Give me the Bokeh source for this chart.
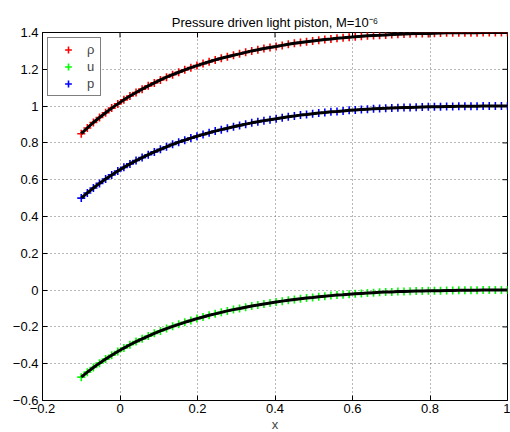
import math
from bokeh.plotting import figure
from bokeh.models import Range1d, FixedTicker, Legend, LegendItem
from bokeh.embed import file_html
from bokeh.resources import INLINE

title_text = "Pressure driven light piston, M=10\u207b\u2076"
x_label = "x"
series_names = ["\u03c1", "u", "p"]
series_colors = ["#ff0000", "#00ff00", "#0000ff"]

x_vals = [-0.1, -0.0843, -0.0686, -0.0529, -0.0371, -0.0214, -0.0057, 0.0100, 0.0257, 0.0414,
          0.0571, 0.0729, 0.0886, 0.1043, 0.1200, 0.1357, 0.1514, 0.1671, 0.1829, 0.1986,
          0.2143, 0.2300, 0.2457, 0.2614, 0.2771, 0.2929, 0.3086, 0.3243, 0.3400, 0.3557,
          0.3714, 0.3871, 0.4029, 0.4186, 0.4343, 0.4500, 0.4657, 0.4814, 0.4971, 0.5129,
          0.5286, 0.5443, 0.5600, 0.5757, 0.5914, 0.6071, 0.6229, 0.6386, 0.6543, 0.6700,
          0.6857, 0.7014, 0.7171, 0.7329, 0.7486, 0.7643, 0.7800, 0.7957, 0.8114, 0.8271,
          0.8429, 0.8586, 0.8743, 0.8900, 0.9057, 0.9214, 0.9371, 0.9529, 0.9686, 0.9843, 1.0]

rho_vals = [0.850, 0.881, 0.911, 0.938, 0.964, 0.989, 1.012, 1.034, 1.055, 1.074,
            1.092, 1.110, 1.126, 1.142, 1.157, 1.171, 1.184, 1.197, 1.209, 1.220,
            1.231, 1.241, 1.251, 1.260, 1.268, 1.276, 1.284, 1.292, 1.300, 1.306,
            1.313, 1.319, 1.324, 1.330, 1.336, 1.341, 1.346, 1.350, 1.354, 1.358,
            1.362, 1.365, 1.369, 1.371, 1.374, 1.377, 1.379, 1.382, 1.384, 1.385,
            1.387, 1.389, 1.390, 1.392, 1.393, 1.394, 1.395, 1.395, 1.396, 1.397,
            1.398, 1.398, 1.398, 1.399, 1.399, 1.399, 1.400, 1.400, 1.400, 1.400, 1.400]

u_vals = [-0.473, -0.446, -0.421, -0.397, -0.375, -0.354, -0.334, -0.315, -0.297, -0.280,
          -0.265, -0.250, -0.235, -0.222, -0.209, -0.197, -0.186, -0.175, -0.165, -0.155,
          -0.146, -0.137, -0.129, -0.121, -0.113, -0.106, -0.100, -0.093, -0.086, -0.081,
          -0.075, -0.070, -0.065, -0.060, -0.055, -0.051, -0.047, -0.043, -0.040, -0.036,
          -0.033, -0.030, -0.027, -0.025, -0.022, -0.020, -0.018, -0.016, -0.014, -0.012,
          -0.011, -0.010, -0.008, -0.007, -0.006, -0.005, -0.005, -0.004, -0.003, -0.003,
          -0.002, -0.002, -0.001, -0.001, -0.001, -0.001, 0.000, 0.000, 0.000, 0.000, 0.000]

p_vals = [0.500, 0.528, 0.555, 0.580, 0.604, 0.626, 0.647, 0.667, 0.686, 0.704,
          0.720, 0.736, 0.751, 0.765, 0.779, 0.792, 0.804, 0.815, 0.826, 0.836,
          0.846, 0.855, 0.864, 0.872, 0.880, 0.888, 0.895, 0.902, 0.909, 0.915,
          0.921, 0.926, 0.931, 0.937, 0.942, 0.946, 0.951, 0.954, 0.958, 0.962,
          0.965, 0.969, 0.971, 0.974, 0.977, 0.979, 0.981, 0.983, 0.985, 0.987,
          0.988, 0.990, 0.991, 0.992, 0.993, 0.994, 0.995, 0.996, 0.997, 0.997,
          0.998, 0.998, 0.999, 0.999, 0.999, 0.999, 1.000, 1.000, 1.000, 1.000, 1.000]

x_ticks = [-0.2, 0, 0.2, 0.4, 0.6, 0.8, 1]
x_tick_labels = ["\u22120.2", "0", "0.2", "0.4", "0.6", "0.8", "1"]
y_ticks = [-0.6, -0.4, -0.2, 0, 0.2, 0.4, 0.6, 0.8, 1, 1.2, 1.4]
y_tick_labels = ["\u22120.6", "\u22120.4", "\u22120.2", "0", "0.2", "0.4", "0.6", "0.8", "1", "1.2", "1.4"]
x_lo, x_hi = -0.2, 1
y_lo, y_hi = -0.6, 1.4

FONT = "Liberation Sans"

p = figure(frame_width=465, frame_height=368, output_backend="svg", toolbar_location=None,
           x_range=Range1d(x_lo, x_hi), y_range=Range1d(y_lo, y_hi),
           min_border_left=42, min_border_right=3, min_border_top=32, min_border_bottom=20,
           background_fill_color="white", border_fill_color="white")

p.title.text = title_text
p.title.text_font = FONT
p.title.text_font_size = "13px"
p.title.text_font_style = "normal"
p.title.text_color = "black"
p.title.align = "center"
p.title.standoff = 6

p.outline_line_color = "black"
p.outline_line_width = 1

def style_axis(ax, ticks, labels):
    ax.ticker = FixedTicker(ticks=ticks)
    ax.axis_line_color = "black"
    ax.major_tick_line_color = "black"
    ax.major_tick_in = 5
    ax.major_tick_out = 0
    ax.minor_tick_line_color = None
    ax.major_label_text_font = FONT
    ax.major_label_text_font_size = "13px"
    ax.major_label_text_color = "black"
    ax.major_label_overrides = {t: l for t, l in zip(ticks, labels)}

style_axis(p.xaxis[0], x_ticks, x_tick_labels)
style_axis(p.yaxis[0], y_ticks, y_tick_labels)
p.xaxis[0].major_label_standoff = 3
p.yaxis[0].major_label_standoff = 4
p.xaxis[0].axis_label = x_label
p.xaxis[0].axis_label_text_font = FONT
p.xaxis[0].axis_label_text_font_size = "13px"
p.xaxis[0].axis_label_text_font_style = "normal"
p.xaxis[0].axis_label_standoff = 1

# inward ticks on the top and right edges of the box
p.ray(x=x_ticks, y=[y_hi] * len(x_ticks), length=5, length_units="screen",
      angle=-math.pi / 2, line_color="black", line_width=1)
p.ray(x=[x_hi] * len(y_ticks), y=y_ticks, length=5, length_units="screen",
      angle=math.pi, line_color="black", line_width=1)

for g in p.grid:
    g.grid_line_color = "#707070"
    g.grid_line_dash = "1 3"
    g.grid_line_width = 1
p.xgrid.ticker = FixedTicker(ticks=x_ticks)
p.ygrid.ticker = FixedTicker(ticks=y_ticks)

items = []
for yv, name, col in zip([rho_vals, u_vals, p_vals], series_names, series_colors):
    r = p.scatter(x_vals, yv, marker="cross", size=8, line_color=col, line_width=1.6)
    items.append(LegendItem(label=name, renderers=[r]))
for yv in [rho_vals, u_vals, p_vals]:
    p.line(x_vals, yv, line_color="black", line_width=3)

legend = Legend(items=items, location="top_left", margin=5, padding=3,
                glyph_width=34, glyph_height=17, label_height=17, label_width=10, spacing=0,
                label_standoff=2, label_text_font=FONT, label_text_font_size="13px",
                border_line_color="black", border_line_width=1,
                background_fill_color="white", background_fill_alpha=1)
p.add_layout(legend)

open("out.html", "w").write(file_html(p, INLINE))
